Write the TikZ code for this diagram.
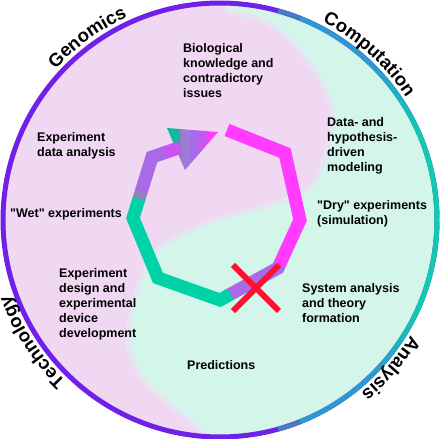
\documentclass[tikz,border=0pt]{standalone}
\usepackage{fontspec}
\setmainfont{Liberation Sans}[Ligatures=TeXOff]
\usetikzlibrary{calc,decorations.text}

\definecolor{cycPink}{RGB}{240,216,242}
\definecolor{cycMint}{RGB}{212,245,234}
\definecolor{cycEdge}{RGB}{228,230,242}
\definecolor{cycRingPurple}{RGB}{112,32,232}
\definecolor{cycRingSteel}{RGB}{74,122,192}
\definecolor{cycRingBlue}{RGB}{46,152,210}
\definecolor{cycRingTeal}{RGB}{18,200,176}
\definecolor{cycMagenta}{RGB}{255,60,255}
\definecolor{cycGreen}{RGB}{0,210,168}
\definecolor{cycPurple}{RGB}{170,106,232}
\definecolor{cycLilac}{RGB}{160,120,225}
\definecolor{cycViolet}{RGB}{204,82,242}
\definecolor{cycGrayPurple}{RGB}{146,128,192}
\definecolor{cycHeadTeal}{RGB}{16,184,160}
\definecolor{cycRed}{RGB}{255,16,48}

\newcommand\cycRingFont{\fontsize{18.5}{18.5}\selectfont\bfseries}

\begin{document}
\begin{tikzpicture}[x=1pt, y=1pt,
  cycRing/.style = {line width=5pt},
  cycSeg/.style = {line width=13pt, line join=miter},
  cycCross/.style = {line width=6pt, cycRed},
  cycLbl/.style = {anchor=north west, align=left, inner sep=0pt,
    font=\fontsize{12.5}{15}\selectfont\bfseries},
  cycTitle/.style = {decorate, decoration={text along path,
    text align=center, text={|\cycRingFont|#1}}}
]
  \useasboundingbox (-220,-219) rectangle (220,220);
  % Hintergrund
  \begin{scope}
    \clip (0,0) circle (217);
    \fill[cycMint] (-220,-220) rectangle (220,220);
    \fill[cycPink] plot[smooth] coordinates {(-12,-216) (-48,-186) (-78,-158)
      (-92,-120) (-83,-70) (-60,-28) (-10,-2) (50,15) (90,32) (107,70)
      (112,110) (98,145) (70,180) (42,200) (5,210)}
      -- (5,240) -- (-240,240) -- (-240,-240) -- (-12,-240) -- cycle;
    \draw[cycEdge, line width=5pt] plot[smooth] coordinates {(-12,-216)
      (-48,-186) (-78,-158) (-92,-120) (-83,-70) (-60,-28) (-10,-2) (50,15)
      (90,32) (107,70) (112,110) (98,145) (70,180) (42,200) (5,210)};
  \end{scope}
  % Ring
  \draw[cycRing, cycRingPurple] (0,0) circle (217);
  \foreach \a in {-68,-67,...,68} {
    \pgfmathsetmacro\p{min(100,max(0,(abs(\a)-25)*5))}
    \draw[cycRing, cycRingBlue!\p!cycRingTeal]
      ({\a-0.6}:217) arc[start angle=\a-0.6, end angle=\a+0.6, radius=217];
  }
  \draw[cycRing, cycRingSteel] (68.3:217) arc[start angle=68.3, end angle=74.5, radius=217];
  \draw[cycRing, cycRingSteel] (-68.3:217) arc[start angle=-68.3, end angle=-74.5, radius=217];
  % Beschriftung am Ring
  \path[cycTitle=Genomics] (156:223) arc[start angle=156, end angle=96, radius=223];
  \path[cycTitle=Computation] (78:223) arc[start angle=78, end angle=18, radius=223];
  \path[cycTitle=Technology] (243:223) arc[start angle=243, end angle=183, radius=223];
  \path[cycTitle=Analysis] (-11:223) arc[start angle=-11, end angle=-71, radius=223];
  % Zyklus
  \coordinate (s) at (7,90);
  \coordinate (v1) at (65,67);
  \coordinate (v2) at (80,0);
  \coordinate (v3) at (58,-48);
  \coordinate (v4) at (0,-80);
  \coordinate (v5) at (-62,-58);
  \coordinate (v6) at (-87,2);
  \coordinate (v7) at (-68,63);
  \coordinate (ab) at (-40,72.5);
  \coordinate (hT) at (-2,88);
  \coordinate (hL) at (-53,92);
  \coordinate (hB) at (-35,50);
  % Pfeilspitze in Streifen
  \begin{scope}
    \clip (hL) -- (hT) -- (hB) -- cycle;
    \fill[cycHeadTeal] (-60,40) rectangle (-40,100);
    \fill[cycGrayPurple] (-40,40) rectangle (-37,100);
    \fill[cycLilac] (-37,40) rectangle (-29,100);
    \fill[cycPurple] (-29,40) rectangle (-20,100);
    \fill[cycViolet] (-20,40) rectangle (-13,100);
    \fill[cycMagenta] (-13,40) rectangle (5,100);
  \end{scope}
  \draw[cycSeg, cycMagenta] (s) -- (v1) -- (v2) -- ($(v2)!0.97!(v3)$);
  \draw[cycSeg, cycPurple] ($(v2)!0.95!(v3)$) -- (v3) -- ($(v3)!0.83!(v4)$);
  \draw[cycSeg, cycGreen] ($(v3)!0.82!(v4)$) -- (v4) -- (v5) -- (v6) -- ($(v6)!0.33!(v7)$);
  \draw[cycSeg, cycGrayPurple] ($(v6)!0.32!(v7)$) -- ($(v6)!0.45!(v7)$);
  \draw[cycSeg, cycPurple] ($(v6)!0.44!(v7)$) -- (v7) -- ($(v7)!0.46!(ab)$);
  \draw[cycSeg, cycViolet] ($(v7)!0.45!(ab)$) -- (ab);
  % Kreuz
  \coordinate (x0) at (36,-68);
  \draw[cycCross] ($(x0)+(-23,23)$) -- ($(x0)+(23,-23)$);
  \draw[cycCross] ($(x0)+(23,23)$) -- ($(x0)+(-23,-23)$);
  % Stationen
  \node[cycLbl] (bio) at (-37,177) {Biological\\knowledge and\\contradictory\\issues};
  \node[cycLbl] (model) at (107,103) {Data- and\\hypothesis-\\driven\\modeling};
  \node[cycLbl] (anal) at (-183,88) {Experiment\\data analysis};
  \node[cycLbl] (wet) at (-210,12) {"Wet" experiments};
  \node[cycLbl] (dry) at (97,20) {"Dry" experiments\\(simulation)};
  \node[cycLbl] (design) at (-161,-48) {Experiment\\design and\\experimental\\device\\development};
  \node[cycLbl] (theory) at (82,-63) {System analysis\\and theory\\formation};
  \node[cycLbl] (pred) at (-33,-140) {Predictions};
\end{tikzpicture}
\end{document}
